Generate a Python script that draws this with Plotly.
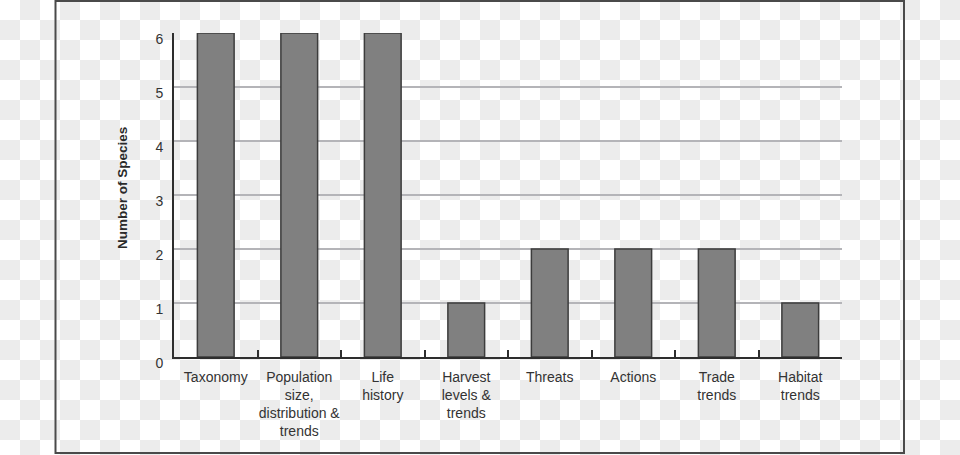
import base64
import plotly.graph_objects as go

categories = [
    "Taxonomy",
    "Population<br>size,<br>distribution &<br>trends",
    "Life<br>history",
    "Harvest<br>levels &<br>trends",
    "Threats",
    "Actions",
    "Trade<br>trends",
    "Habitat<br>trends",
]
species_counts = [6, 6, 6, 1, 2, 2, 2, 1]
y_ticks = [0, 1, 2, 3, 4, 5, 6]
y_title = "Number of Species"

W, H = 960, 455
ML, MR, MT, MB = 174, 118, 33, 98
PW, PH = W - ML - MR, H - MT - MB

FONT = "Liberation Sans, Arial, sans-serif"

checker_svg = (
    "<svg xmlns='http://www.w3.org/2000/svg' width='960' height='455'>"
    "<defs><pattern id='p' width='40' height='40' patternUnits='userSpaceOnUse'>"
    "<rect width='40' height='40' fill='#ffffff'/>"
    "<rect x='20' y='0' width='20' height='20' fill='#ececec'/>"
    "<rect x='0' y='20' width='20' height='20' fill='#ececec'/>"
    "</pattern></defs><rect width='960' height='455' fill='url(#p)'/></svg>"
)
checker_uri = "data:image/svg+xml;base64," + base64.b64encode(checker_svg.encode()).decode()

fig = go.Figure(
    go.Bar(
        x=categories,
        y=species_counts,
        marker=dict(color="#808080", line=dict(color="#3c3c3c", width=1.5)),
        hoverinfo="skip",
    )
)

fig.update_layout(
    width=W,
    height=H,
    margin=dict(l=ML, r=MR, t=MT, b=MB, autoexpand=False),
    paper_bgcolor="white",
    plot_bgcolor="rgba(0,0,0,0)",
    bargap=0.56,
    showlegend=False,
    font=dict(family=FONT, size=14, color="#333333"),
    images=[
        dict(
            source=checker_uri,
            xref="paper", yref="paper",
            x=-ML / PW, y=1 + MT / PH,
            sizex=W / PW, sizey=H / PH,
            xanchor="left", yanchor="top",
            sizing="stretch", layer="below",
        )
    ],
    shapes=[
        dict(
            type="rect", xref="paper", yref="paper",
            x0=(55.5 - ML) / PW, x1=(904 - ML) / PW,
            y0=-(453 - MT - PH) / PH, y1=(MT + PH - 1) / PH,
            line=dict(color="#4a4a4a", width=2),
            fillcolor="rgba(0,0,0,0)",
        )
    ],
    annotations=[
        dict(
            text="<b>" + y_title + "</b>",
            xref="paper", yref="paper",
            x=(122 - ML) / PW, y=(MT + PH - 188) / PH,
            xanchor="center", yanchor="middle",
            textangle=-90, showarrow=False,
            font=dict(family=FONT, size=13.5, color="#2a2a2a"),
        )
    ],
)

fig.update_xaxes(
    type="category",
    automargin=False,
    tickangle=0,
    showline=True, linecolor="#2e2e2e", linewidth=2,
    ticks="inside", tickson="boundaries", ticklen=7, tickwidth=2, tickcolor="#2e2e2e",
    showgrid=False,
    ticklabelstandoff=6,
    tickfont=dict(family=FONT, size=14, color="#333333"),
)
fig.update_yaxes(
    range=[0, 6],
    automargin=False,
    tickvals=y_ticks,
    showline=True, linecolor="#2e2e2e", linewidth=2,
    ticks="",
    showgrid=True, gridcolor="#b4b4b8", gridwidth=1.5,
    zeroline=False,
    ticklabelstandoff=6,
    ticklabelshift=6,
    tickfont=dict(family=FONT, size=14, color="#333333"),
)

fig.write_html(
    "out.html",
    config={"displayModeBar": False},
    post_script="document.body.style.margin='0';",
)
